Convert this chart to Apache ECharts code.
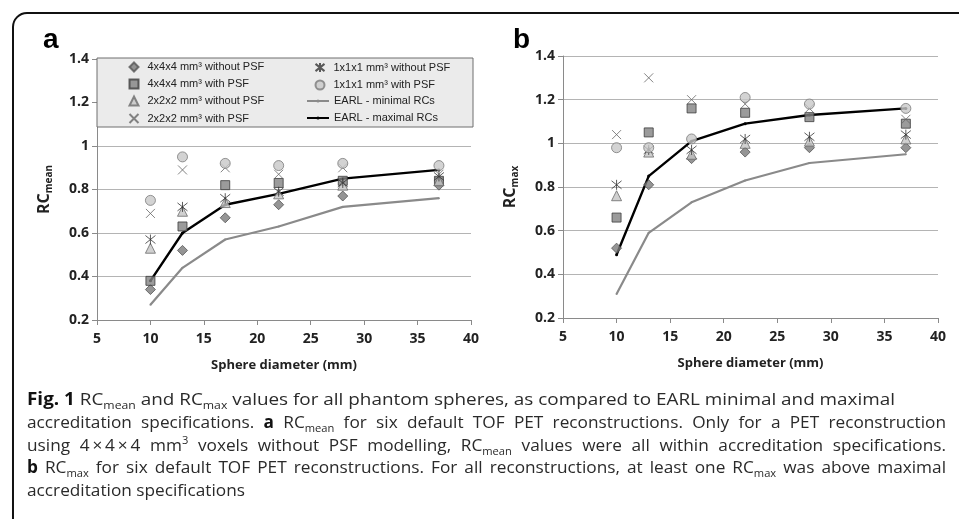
<!DOCTYPE html>
<html>
<head>
<meta charset="utf-8">
<script src="https://cdn.jsdelivr.net/npm/echarts@6/dist/echarts.min.js"></script>
<style>
  html, body { margin: 0; padding: 0; background: #fff; }
  #chart { width: 959px; height: 519px; }
</style>
</head>
<body>
<div id="chart"></div>
<script>
// sphere diameters (mm)
const diameters = [10, 13, 17, 22, 28, 37];

// panel a - RC mean
const mean444 = [0.34, 0.52, 0.67, 0.73, 0.77, 0.82];
const mean444psf = [0.38, 0.63, 0.82, 0.83, 0.84, 0.84];
const mean222 = [0.53, 0.70, 0.74, 0.78, 0.82, 0.84];
const mean222psf = [0.69, 0.89, 0.90, 0.87, 0.90, 0.87];
const mean111 = [0.57, 0.72, 0.76, 0.79, 0.83, 0.86];
const mean111psf = [0.75, 0.95, 0.92, 0.91, 0.92, 0.91];
const meanEarlMin = [0.27, 0.44, 0.57, 0.63, 0.72, 0.76];
const meanEarlMax = [0.38, 0.60, 0.73, 0.78, 0.85, 0.89];

// panel b - RC max
const max444 = [0.52, 0.81, 0.93, 0.96, 0.98, 0.98];
const max444psf = [0.66, 1.05, 1.16, 1.14, 1.12, 1.09];
const max222 = [0.76, 0.96, 0.95, 1.00, 1.01, 1.02];
const max222psf = [1.04, 1.30, 1.20, 1.18, 1.16, 1.11];
const max111 = [0.81, 0.97, 0.97, 1.02, 1.03, 1.04];
const max111psf = [0.98, 0.98, 1.02, 1.21, 1.18, 1.16];
const maxEarlMin = [0.31, 0.59, 0.73, 0.83, 0.91, 0.95];
const maxEarlMax = [0.49, 0.85, 1.01, 1.09, 1.13, 1.16];

const seriesNames = [
  '4x4x4 mm³ without PSF',
  '4x4x4 mm³ with PSF',
  '2x2x2 mm³ without PSF',
  '2x2x2 mm³ with PSF',
  '1x1x1 mm³ without PSF',
  '1x1x1 mm³ with PSF',
  'EARL - minimal RCs',
  'EARL - maximal RCs'
];

const xTicks = { min: 5, max: 40, interval: 5 };
const yTicks = { min: 0.2, max: 1.4, interval: 0.2 };

const AXIS_FONT = '"Open Sans"';
const CAP_FONT = '"Open Sans"';

// marker look for each scatter series, same order as seriesNames
const markers = [
  { symbol: 'diamond', size: 10, itemStyle: { color: '#7b7b7b', borderColor: '#555', borderWidth: 1 } },
  { symbol: 'rect', size: 9, itemStyle: { color: '#828282', borderColor: '#3c3c3c', borderWidth: 1 } },
  { symbol: 'triangle', size: 10, itemStyle: { color: '#c4c4c4', borderColor: '#6a6a6a', borderWidth: 1 } },
  { symbol: 'path://M0,0L10,10M10,0L0,10', size: 9, itemStyle: { color: 'none', borderColor: '#666', borderWidth: 1 } },
  { symbol: 'path://M0,1L10,9M10,1L0,9M5,0L5,10', size: 10, itemStyle: { color: 'none', borderColor: '#333', borderWidth: 1 } },
  { symbol: 'circle', size: 10, itemStyle: { color: '#c8c8c8', borderColor: '#7a7a7a', borderWidth: 1 } }
];

function pairs(values) {
  return diameters.map((d, i) => [d, values[i]]);
}

function panelSeries(idx, groups) {
  const out = [];
  groups.slice(0, 6).forEach((vals, i) => {
    out.push({
      name: seriesNames[i],
      type: 'scatter',
      xAxisIndex: idx,
      yAxisIndex: idx,
      symbol: markers[i].symbol,
      symbolSize: markers[i].size,
      itemStyle: markers[i].itemStyle,
      z: 3,
      data: pairs(vals)
    });
  });
  out.push({
    name: seriesNames[6], type: 'line', xAxisIndex: idx, yAxisIndex: idx,
    symbol: 'circle', symbolSize: 2, z: 2,
    lineStyle: { color: '#8a8a8a', width: 2.2 }, itemStyle: { color: '#8a8a8a' },
    data: pairs(groups[6])
  });
  out.push({
    name: seriesNames[7], type: 'line', xAxisIndex: idx, yAxisIndex: idx,
    symbol: 'circle', symbolSize: 3, z: 2,
    lineStyle: { color: '#000', width: 2.4 }, itemStyle: { color: '#000' },
    data: pairs(groups[7])
  });
  return out;
}

function xAxisFor(idx) {
  return {
    gridIndex: idx, type: 'value', ...xTicks,
    axisLine: { show: true, lineStyle: { color: '#8a8a8a', width: 1 } },
    axisTick: { show: true, length: 5, lineStyle: { color: '#8a8a8a' } },
    splitLine: { show: false },
    axisLabel: { margin: 12, color: '#222', fontFamily: AXIS_FONT, fontWeight: 'bold', fontSize: 14 },
    name: 'Sphere diameter (mm)', nameLocation: 'middle', nameGap: 39,
    nameTextStyle: { color: '#222', fontFamily: AXIS_FONT, fontWeight: 'bold', fontSize: 13 }
  };
}

function yAxisFor(idx, sub) {
  return {
    gridIndex: idx, type: 'value', ...yTicks,
    axisLine: { show: true, lineStyle: { color: '#8a8a8a', width: 1 } },
    axisTick: { show: true, length: 5, lineStyle: { color: '#8a8a8a' } },
    splitLine: { show: true, lineStyle: { color: '#b4b4b4', width: 1 } },
    axisLabel: { margin: 8, color: '#222', fontFamily: AXIS_FONT, fontWeight: 'bold', fontSize: 14 },
    name: '{r|RC}{s|' + sub + '}', nameLocation: 'middle', nameRotate: 90, nameGap: 43,
    nameTextStyle: {
      rich: {
        r: { fontFamily: AXIS_FONT, fontWeight: 'bold', fontSize: 16, color: '#222', lineHeight: 20 },
        s: { fontFamily: AXIS_FONT, fontWeight: 'bold', fontSize: 10, color: '#222', verticalAlign: 'bottom', lineHeight: 20 }
      }
    }
  };
}

const legendText = { fontFamily: 'Liberation Sans', fontSize: 11, color: '#222', lineHeight: 13, padding: [0, 0, 0, 4] };
const legendBase = {
  orient: 'vertical', itemGap: 4, padding: 0, itemWidth: 9, itemHeight: 9,
  selectedMode: false, z: 5, textStyle: legendText
};

// caption, token lists per line
const captionLines = [
  [['b', 'Fig. 1'], ['n', ' RC'], ['sub', 'mean'], ['n', ' and RC'], ['sub', 'max'], ['n', ' values for all phantom spheres, as compared to EARL minimal and maximal']],
  [['n', 'accreditation specifications. '], ['b', 'a'], ['n', ' RC'], ['sub', 'mean'], ['n', ' for six default TOF PET reconstructions. Only for a PET reconstruction']],
  [['n', 'using 4\u2009×\u20094\u2009×\u20094 mm'], ['sup', '3'], ['n', ' voxels without PSF modelling, RC'], ['sub', 'mean'], ['n', ' values were all within accreditation specifications.']],
  [['b', 'b'], ['n', ' RC'], ['sub', 'max'], ['n', ' for six default TOF PET reconstructions. For all reconstructions, at least one RC'], ['sub', 'max'], ['n', ' was above maximal']],
  [['n', 'accreditation specifications']]
];
// right end of each line; lines 2-4 are justified by widening their spaces
const captionLeft = 27;
const captionRight = [895, 946, 946, 946, 245];
const captionJustified = [false, true, true, true, false];
const captionY = [400, 423, 446, 468, 491];

const capRich = {
  n: { fontFamily: CAP_FONT, fontSize: 17, fill: '#2a2a2a', lineHeight: 22 },
  b: { fontFamily: CAP_FONT, fontSize: 17, fontWeight: 'bold', fill: '#111', lineHeight: 22 },
  sub: { fontFamily: CAP_FONT, fontSize: 11, fill: '#2a2a2a', verticalAlign: 'bottom', lineHeight: 22 },
  sup: { fontFamily: CAP_FONT, fontSize: 11, fill: '#2a2a2a', verticalAlign: 'top', lineHeight: 22 }
};

const measureCtx = document.createElement('canvas').getContext('2d');
function textW(k, t) {
  const s = capRich[k];
  measureCtx.font = (s.fontWeight || 'normal') + ' ' + s.fontSize + 'px ' + CAP_FONT;
  return measureCtx.measureText(t).width;
}
function lineWidth(tokens) {
  return tokens.reduce((w, [k, t]) => w + textW(k, t), 0);
}

// body text scale taken from the last (plain) line
const bodyScale = (captionRight[4] - captionLeft) / lineWidth(captionLines[4]);
const spaceW = textW('n', ' ');

const captionGraphics = captionLines.map((tokens, i) => {
  const rich = { ...capRich };
  let text;
  let scale;
  if (captionJustified[i]) {
    scale = bodyScale;
    const spaces = tokens.filter(([k]) => k === 'n').reduce((c, [, t]) => c + t.split(' ').length - 1, 0);
    const extra = ((captionRight[i] - captionLeft) / scale - lineWidth(tokens)) / spaces;
    rich.sp = { fontFamily: CAP_FONT, fontSize: 17, lineHeight: 22, width: spaceW + extra };
    text = tokens.map(([k, t]) => {
      if (k !== 'n') return '{' + k + '|' + t + '}';
      return t.split(' ').map(w => (w ? '{n|' + w + '}' : '')).join('{sp| }');
    }).join('');
  } else {
    scale = (captionRight[i] - captionLeft) / lineWidth(tokens);
    text = tokens.map(([k, t]) => '{' + k + '|' + t + '}').join('');
  }
  return {
    type: 'text',
    x: captionLeft,
    y: captionY[i],
    scaleX: scale,
    style: { x: 0, y: 0, text: text, rich: rich, verticalAlign: 'middle' }
  };
});

const chart = echarts.init(document.getElementById('chart'), null, { renderer: 'canvas' });

chart.setOption({
  animation: false,
  backgroundColor: '#fff',
  grid: [
    { left: 97, top: 59, width: 374, height: 261 },
    { left: 563, top: 56, width: 375, height: 262 }
  ],
  xAxis: [xAxisFor(0), xAxisFor(1)],
  yAxis: [yAxisFor(0, 'mean'), yAxisFor(1, 'max')],
  legend: [
    { ...legendBase, left: 127, top: 60.5, data: seriesNames.slice(0, 4) },
    { ...legendBase, left: 313, top: 60.5, data: seriesNames.slice(4, 6) },
    { ...legendBase, left: 306, top: 94.5, itemWidth: 22, itemHeight: 4, textStyle: { ...legendText, padding: [0, 0, 0, 0] }, data: seriesNames.slice(6) }
  ],
  graphic: [
    {
      type: 'rect', z: 0,
      shape: { x: 13, y: 13, width: 1000, height: 600, r: 14 },
      style: { fill: 'none', stroke: '#111', lineWidth: 2 }
    },
    {
      type: 'rect', z: 3,
      shape: { x: 97, y: 58, width: 376, height: 69 },
      style: { fill: '#ebebeb', stroke: '#6e6e6e', lineWidth: 1 }
    },
    {
      type: 'text', x: 43, y: 40,
      style: { text: 'a', font: 'bold 28px "Liberation Sans"', fill: '#000', verticalAlign: 'middle' }
    },
    {
      type: 'text', x: 513, y: 40,
      style: { text: 'b', font: 'bold 28px "Liberation Sans"', fill: '#000', verticalAlign: 'middle' }
    },
    ...captionGraphics
  ],
  series: [
    ...panelSeries(0, [mean444, mean444psf, mean222, mean222psf, mean111, mean111psf, meanEarlMin, meanEarlMax]),
    ...panelSeries(1, [max444, max444psf, max222, max222psf, max111, max111psf, maxEarlMin, maxEarlMax])
  ]
});
</script>
</body>
</html>
